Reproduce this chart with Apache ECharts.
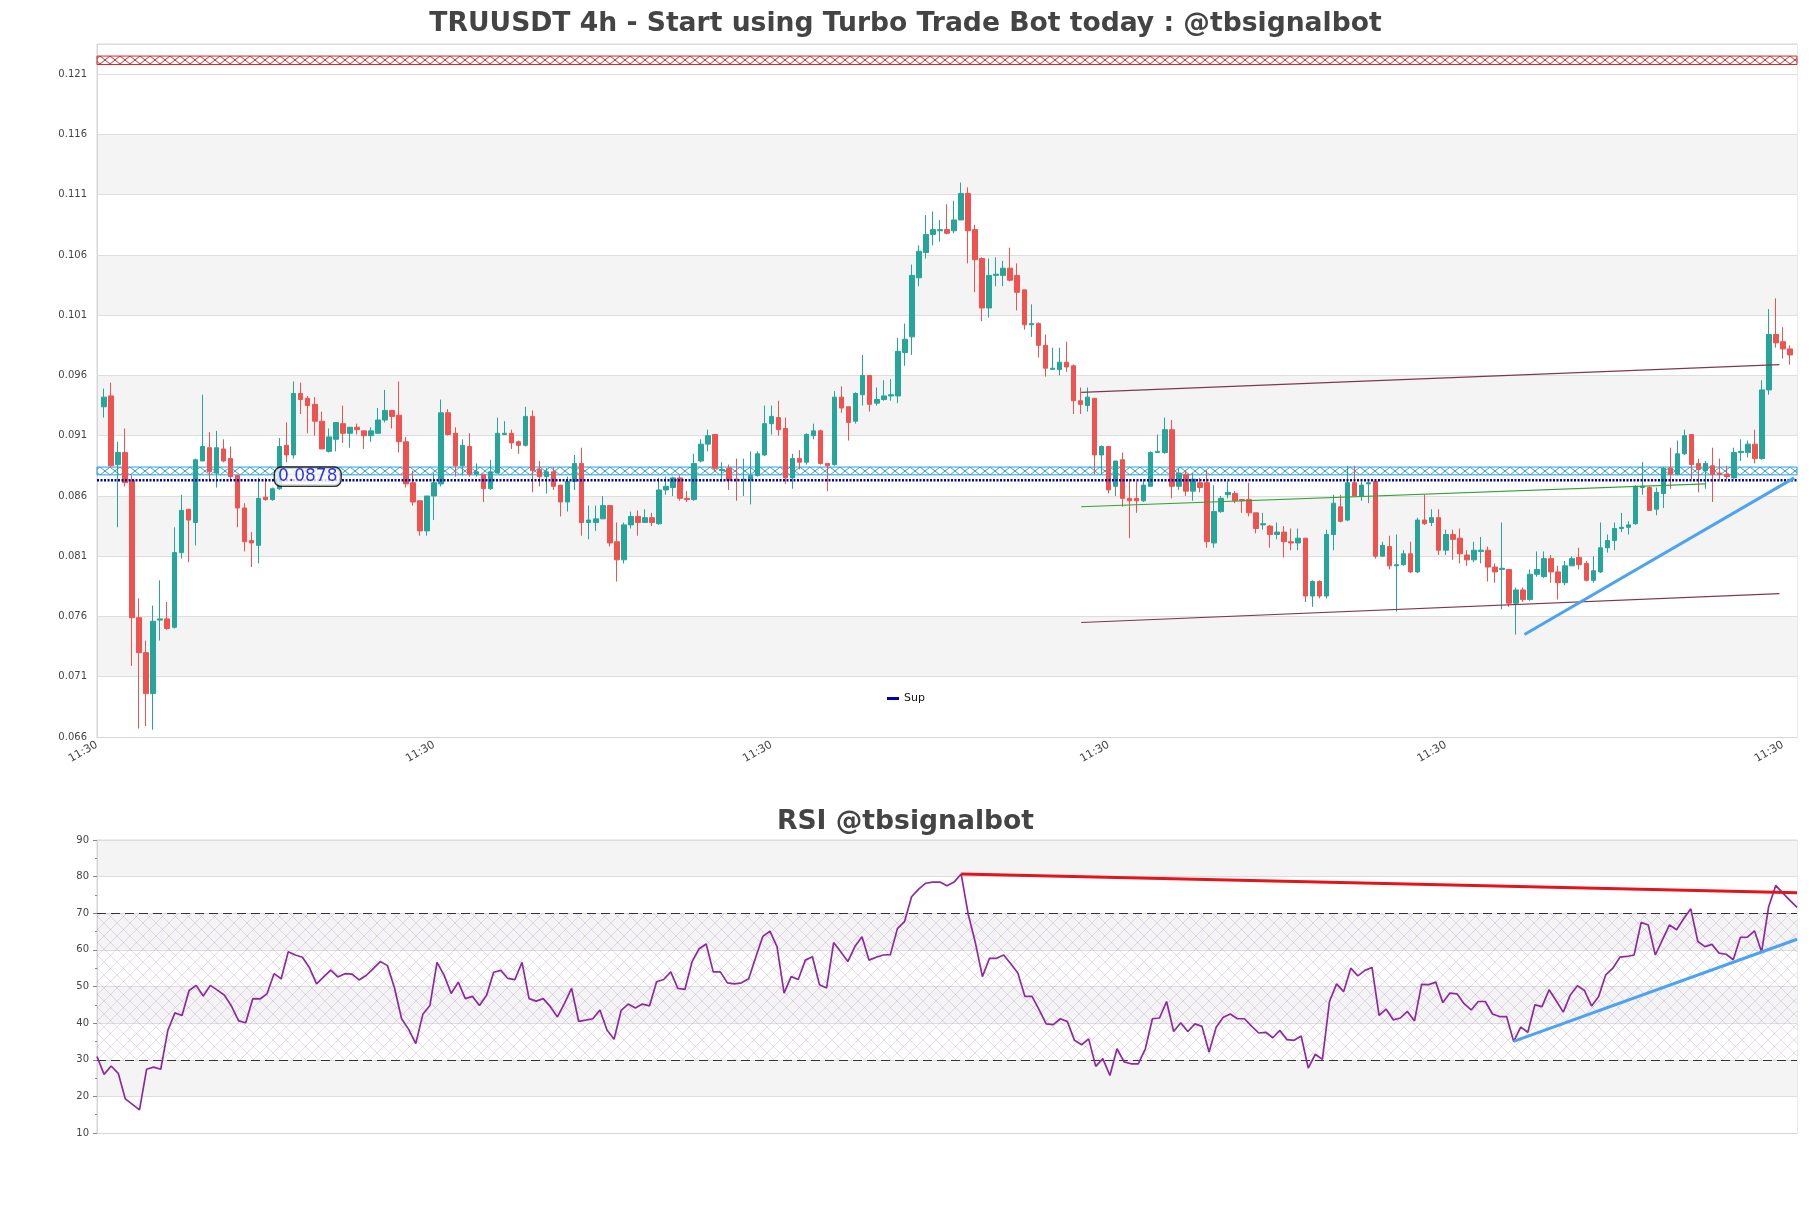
<!DOCTYPE html>
<html><head><meta charset="utf-8">
<script src="https://cdn.jsdelivr.net/npm/echarts@6/dist/echarts.min.js"></script>
<style>html,body{margin:0;padding:0;background:#fff;}#c{width:1811px;height:1208px;}</style>
</head><body><div id="c"></div>
<script>
// ---- data (candles 1..241) ----
const opens = [
.0934,.0943,.0886,.0896,.0873,.0759,.0730,.0696,.0757,.0758,
.0751,.0813,.0849,.0838,.0889,.0900,.0879,.0899,.0891,.0877,
.0850,.0823,.0819,.0859,.0857,.0866,.0902,.0894,.0945,.0941,
.0936,.0922,.0897,.0907,.0920,.0912,.0917,.0914,.0910,.0912,
.0923,.0931,.0927,.0905,.0871,.0856,.0831,.0860,.0870,.0929,
.0912,.0885,.0901,.0878,.0878,.0866,.0879,.0911,.0912,.0905,
.0902,.0926,.0882,.0876,.0880,.0869,.0855,.0872,.0887,.0838,
.0838,.0841,.0852,.0822,.0807,.0836,.0843,.0838,.0842,.0837,
.0865,.0867,.0875,.0858,.0857,.0889,.0903,.0911,.0881,.0883,
.0874,.0873,.0873,.0877,.0894,.0920,.0925,.0916,.0875,.0891,
.0888,.0910,.0914,.0887,.0886,.0942,.0934,.0922,.0944,.0960,
.0937,.0940,.0943,.0943,.0979,.0992,.1041,.1062,.1077,.1080,
.1081,.1080,.1089,.1111,.1081,.1057,.1016,.1043,.1043,.1049,
.1043,.1031,.1002,.1003,.0985,.0965,.0965,.0971,.0968,.0939,
.0935,.0941,.0894,.0901,.0868,.0890,.0858,.0858,.0856,.0868,
.0896,.0896,.0915,.0868,.0878,.0864,.0871,.0871,.0821,.0847,
.0861,.0862,.0857,.0857,.0846,.0836,.0835,.0828,.0830,.0822,
.0821,.0825,.0777,.0789,.0777,.0828,.0851,.0840,.0871,.0860,
.0870,.0872,.0810,.0818,.0802,.0803,.0812,.0797,.0840,.0838,
.0842,.0815,.0828,.0825,.0811,.0807,.0814,.0815,.0801,.0799,
.0799,.0771,.0782,.0774,.0795,.0793,.0808,.0797,.0788,.0802,
.0809,.0804,.0790,.0797,.0817,.0823,.0833,.0834,.0837,.0867,
.0867,.0849,.0862,.0883,.0878,.0895,.0911,.0887,.0881,.0885,
.0879,.0878,.0875,.0896,.0896,.0903,.0891,.0948,.0994,.0988,
.0982];
const closes = [
.0942,.0885,.0896,.0871,.0759,.0730,.0696,.0756,.0758,.0750,
.0813,.0848,.0840,.0890,.0901,.0880,.0900,.0889,.0876,.0850,
.0822,.0821,.0858,.0857,.0866,.0901,.0894,.0945,.0940,.0935,
.0922,.0899,.0909,.0921,.0912,.0917,.0915,.0910,.0914,.0923,
.0931,.0926,.0905,.0870,.0855,.0831,.0860,.0871,.0929,.0911,
.0885,.0902,.0878,.0880,.0866,.0880,.0912,.0912,.0904,.0902,
.0926,.0881,.0876,.0880,.0868,.0855,.0872,.0887,.0838,.0840,
.0841,.0852,.0821,.0807,.0836,.0843,.0838,.0842,.0838,.0865,
.0868,.0875,.0858,.0857,.0887,.0903,.0910,.0883,.0882,.0873,
.0873,.0874,.0877,.0895,.0920,.0926,.0915,.0875,.0891,.0888,
.0911,.0914,.0887,.0885,.0942,.0933,.0921,.0945,.0960,.0936,
.0940,.0943,.0944,.0980,.0990,.1043,.1063,.1077,.1081,.1081,
.1078,.1089,.1111,.1080,.1056,.1016,.1043,.1044,.1049,.1039,
.1029,.1002,.1003,.0985,.0966,.0966,.0971,.0967,.0939,.0936,
.0942,.0894,.0901,.0865,.0889,.0858,.0856,.0856,.0869,.0896,
.0897,.0915,.0868,.0879,.0864,.0874,.0867,.0822,.0847,.0858,
.0863,.0856,.0856,.0846,.0833,.0837,.0828,.0830,.0822,.0821,
.0825,.0777,.0789,.0777,.0828,.0854,.0839,.0871,.0860,.0869,
.0871,.0810,.0819,.0802,.0803,.0812,.0797,.0840,.0837,.0842,
.0815,.0828,.0824,.0812,.0807,.0815,.0815,.0801,.0797,.0800,
.0771,.0782,.0774,.0795,.0799,.0808,.0797,.0788,.0802,.0808,
.0803,.0790,.0798,.0817,.0823,.0833,.0834,.0836,.0868,.0868,
.0848,.0863,.0883,.0878,.0895,.0910,.0886,.0882,.0887,.0878,
.0878,.0876,.0896,.0897,.0903,.0891,.0948,.0994,.0987,.0982,
.0977];
const highs = [
.0949,.0954,.0905,.0916,.0877,.0775,.0740,.0769,.0790,.0772,
.0834,.0861,.0849,.0891,.0944,.0913,.0914,.0907,.0901,.0877,
.0854,.0830,.0875,.0875,.0867,.0908,.0921,.0955,.0954,.0943,
.0942,.0930,.0916,.0921,.0935,.0917,.0920,.0914,.0917,.0933,
.0948,.0931,.0955,.0909,.0881,.0856,.0860,.0879,.0940,.0932,
.0917,.0907,.0912,.0887,.0878,.0890,.0925,.0922,.0915,.0906,
.0934,.0931,.0889,.0883,.0884,.0869,.0876,.0894,.0900,.0852,
.0852,.0860,.0852,.0838,.0838,.0847,.0848,.0849,.0846,.0875,
.0876,.0876,.0877,.0864,.0895,.0907,.0915,.0911,.0888,.0886,
.0891,.0891,.0897,.0897,.0935,.0935,.0939,.0925,.0895,.0898,
.0912,.0920,.0915,.0887,.0947,.0951,.0934,.0946,.0977,.0960,
.0950,.0956,.0957,.0991,.1003,.1052,.1068,.1093,.1096,.1089,
.1102,.1105,.1120,.1116,.1085,.1058,.1057,.1058,.1055,.1066,
.1053,.1031,.1019,.1004,.0994,.0983,.0983,.0988,.0969,.0950,
.0950,.0941,.0902,.0901,.0889,.0896,.0874,.0872,.0874,.0897,
.0911,.0925,.0923,.0883,.0881,.0879,.0875,.0881,.0869,.0860,
.0872,.0864,.0857,.0871,.0846,.0846,.0836,.0838,.0835,.0833,
.0833,.0825,.0790,.0790,.0832,.0861,.0861,.0885,.0885,.0872,
.0872,.0872,.0822,.0827,.0828,.0815,.0822,.0842,.0861,.0849,
.0849,.0832,.0832,.0833,.0815,.0822,.0826,.0818,.0804,.0838,
.0799,.0784,.0784,.0799,.0814,.0814,.0811,.0802,.0806,.0810,
.0817,.0806,.0810,.0838,.0828,.0838,.0846,.0839,.0869,.0888,
.0868,.0867,.0884,.0900,.0906,.0915,.0911,.0891,.0889,.0900,
.0891,.0885,.0900,.0907,.0906,.0915,.0956,.1015,.1024,.1000,
.0985];
const lows = [
.0925,.0884,.0834,.0868,.0719,.0667,.0669,.0666,.0740,.0749,
.0750,.0808,.0805,.0819,.0889,.0872,.0867,.0888,.0874,.0834,
.0814,.0801,.0804,.0856,.0856,.0865,.0888,.0891,.0928,.0912,
.0910,.0899,.0896,.0897,.0904,.0900,.0911,.0899,.0905,.0912,
.0921,.0916,.0896,.0867,.0852,.0827,.0827,.0840,.0868,.0910,
.0876,.0877,.0876,.0876,.0855,.0865,.0879,.0911,.0899,.0895,
.0901,.0863,.0868,.0862,.0865,.0843,.0847,.0865,.0827,.0824,
.0831,.0841,.0818,.0789,.0804,.0833,.0827,.0838,.0835,.0836,
.0861,.0860,.0856,.0855,.0856,.0888,.0897,.0880,.0872,.0865,
.0856,.0860,.0853,.0876,.0893,.0911,.0910,.0870,.0866,.0882,
.0886,.0907,.0886,.0864,.0885,.0929,.0906,.0920,.0935,.0930,
.0935,.0939,.0939,.0937,.0968,.0977,.1034,.1057,.1068,.1071,
.1077,.1078,.1089,.1053,.1029,.1005,.1008,.1034,.1034,.1038,
.1014,.0998,.0992,.0975,.0959,.0965,.0960,.0963,.0928,.0928,
.0930,.0878,.0878,.0862,.0860,.0851,.0825,.0846,.0855,.0868,
.0896,.0895,.0858,.0865,.0860,.0856,.0863,.0817,.0817,.0846,
.0858,.0854,.0846,.0843,.0829,.0832,.0817,.0824,.0809,.0815,
.0815,.0772,.0768,.0775,.0775,.0815,.0838,.0839,.0860,.0856,
.0854,.0808,.0810,.0799,.0764,.0802,.0796,.0796,.0836,.0835,
.0811,.0811,.0807,.0804,.0802,.0805,.0804,.0789,.0788,.0766,
.0768,.0745,.0772,.0773,.0793,.0792,.0788,.0774,.0786,.0802,
.0799,.0789,.0788,.0796,.0813,.0815,.0830,.0828,.0836,.0861,
.0848,.0844,.0850,.0866,.0877,.0894,.0874,.0863,.0866,.0855,
.0874,.0874,.0874,.0889,.0892,.0887,.0890,.0944,.0983,.0974,
.0969];
const rsi = [
30.9,26.0,28.3,26.3,19.3,17.8,16.3,27.4,28.0,27.4,
38.0,42.8,42.1,48.9,50.3,47.4,50.3,49.0,47.6,44.6,
40.6,40.1,46.7,46.6,48.0,53.5,52.1,59.5,58.6,58.0,
55.1,50.7,52.6,54.5,52.6,53.5,53.4,51.8,53.0,54.9,
56.8,55.7,49.6,41.2,38.3,34.4,42.4,44.8,56.6,53.1,
48.1,51.2,46.7,47.3,44.8,47.6,53.9,54.4,52.2,51.9,
56.6,46.7,46.0,46.7,44.5,41.7,45.4,49.5,40.5,40.8,
41.2,43.6,38.1,35.6,43.5,45.2,44.1,45.2,44.7,51.3,
51.9,54.0,49.5,49.2,56.7,60.3,61.6,54.0,54.0,51.0,
50.7,51.0,52.1,58.0,63.7,65.1,60.9,48.2,52.7,51.9,
57.2,58.1,50.5,49.6,62.0,59.5,56.8,60.9,63.6,57.2,
58.0,58.6,58.7,65.8,67.7,74.5,76.6,78.2,78.5,78.5,
77.5,78.5,80.7,69.7,62.0,52.7,57.7,57.7,58.6,56.2,
53.7,47.3,47.3,43.7,39.8,39.6,41.2,40.4,35.3,34.1,
35.7,28.2,30.3,25.7,33.0,29.4,28.9,28.9,33.0,41.2,
41.4,45.9,37.7,40.1,37.7,39.8,39.1,32.1,38.9,41.6,
42.5,41.2,41.2,39.2,37.3,37.5,36.0,38.0,35.5,35.3,
36.5,27.7,31.5,30.1,45.9,50.7,48.6,55.0,52.9,54.4,
55.2,42.1,43.8,40.9,41.4,43.2,40.6,50.6,50.5,51.2,
45.6,48.2,48.0,45.3,43.6,45.9,45.9,42.5,41.8,41.8,
35.0,38.9,37.5,45.0,44.5,49.1,46.1,43.0,47.7,50.2,
48.9,44.7,47.3,53.2,55.0,58.0,58.2,58.6,67.5,66.8,
58.6,62.7,66.8,65.5,68.5,71.2,62.3,60.9,61.5,59.1,
58.8,57.3,63.4,63.5,65.2,59.4,71.8,77.6,75.5,73.5,
71.6];
// tick labels
const xTickSlots = [0, 48, 96, 144, 192, 240];
const xTickLabels = ['11:30','11:30','11:30','11:30','11:30','11:30'];
const priceMin = 0.066, priceMax = 0.1235, priceStep = 0.005;
const rsiMin = 10, rsiMax = 90, rsiStep = 10;
// levels / drawn lines: [slot, value]
const supLevel = 0.0873;
const supLabelText = '0.0878';
const supLabelAt = [30, 0.0876];
const resBand = [0.1218, 0.1225];
const supBand = [0.08775, 0.0884];
const chanUpper = [[140.1, 0.0946], [239.5, 0.0969]];
const chanLower = [[140.1, 0.0755], [239.5, 0.0779]];
const midLine = [[140.1, 0.0851], [229, 0.0870]];
const riseLine = [[203.2, 0.0745], [241.6, 0.0875]];
const rsiDownLine = [[123, 80.7], [241, 75.6]];
const rsiUpLine = [[201, 35.0], [241, 62.9]];
const rsiLevels = [30, 70];

// ---- build ----
const BASE = priceMin;
const nSlots = opens.length + 2;
const slots = Array.from({length: nSlots}, (_, k) => String(k));
const candleData = slots.map((_, k) => {
  const i = k - 1;
  if (i < 0 || i >= opens.length) return '-';
  return [opens[i] - BASE, closes[i] - BASE, lows[i] - BASE, highs[i] - BASE];
});
const shift = pts => pts.map(p => [p[0], p[1] - BASE]);
const rsiData = rsi.map((v, j) => [j + 1, v]);

function hatch(color, w, h, lw, bg) {
  const c = document.createElement('canvas');
  c.width = w; c.height = h;
  const g = c.getContext('2d');
  if (bg) { g.fillStyle = bg; g.fillRect(0, 0, w, h); }
  g.strokeStyle = color; g.lineWidth = lw;
  g.beginPath();
  g.moveTo(0, 0); g.lineTo(w, h);
  g.moveTo(w, 0); g.lineTo(0, h);
  g.stroke();
  return c;
}
const FONT = 'DejaVu Sans';
const mainAreaColors = ['#ffffff','#f4f4f4','#ffffff','#f4f4f4','#ffffff','#f4f4f4','#ffffff','#f4f4f4','#ffffff','#f4f4f4','#ffffff','#ffffff'];

const chart = echarts.init(document.getElementById('c'), null, {renderer: 'canvas'});
const option = {
  animation: false,
  backgroundColor: '#ffffff',
  textStyle: {fontFamily: FONT},
  title: [
    {text: 'TRUUSDT 4h - Start using Turbo Trade Bot today : @tbsignalbot', left: 'center', top: 6,
     textStyle: {fontFamily: FONT, fontWeight: 'bold', fontSize: 26.6, color: '#444444'}},
    {text: 'RSI @tbsignalbot', left: 'center', top: 804,
     textStyle: {fontFamily: FONT, fontWeight: 'bold', fontSize: 26.6, color: '#444444'}}
  ],
  legend: {data: ['Sup'], left: 882, top: 688, icon: 'rect', itemWidth: 12, itemHeight: 3,
    textStyle: {fontFamily: FONT, fontSize: 11, color: '#111'}},
  grid: [
    {left: 97, right: 14, top: 44, height: 693, show: true, borderColor: '#d6d6d6', borderWidth: 1, backgroundColor: 'transparent'},
    {left: 97, right: 14, top: 840, height: 293, show: true, borderColor: '#d6d6d6', borderWidth: 1, backgroundColor: 'transparent'}
  ],
  xAxis: [
    {type: 'category', gridIndex: 0, data: slots, boundaryGap: false,
     axisLine: {lineStyle: {color: '#d6d6d6'}}, axisTick: {show: false}, splitLine: {show: false},
     axisLabel: {interval: (idx) => xTickSlots.indexOf(idx) >= 0,
       formatter: (val) => { const k = xTickSlots.indexOf(+val); return k >= 0 ? xTickLabels[k] : ''; },
       rotate: 30, fontSize: 11, color: '#444', margin: 7, fontFamily: FONT}},
    {type: 'value', gridIndex: 0, min: 0, max: nSlots - 1, show: false},
    {type: 'value', gridIndex: 1, min: 1, max: rsi.length,
     axisLine: {lineStyle: {color: '#d6d6d6'}}, axisTick: {show: false}, axisLabel: {show: false}, splitLine: {show: false}}
  ],
  yAxis: [
    {type: 'value', gridIndex: 0, min: 0, max: priceMax - BASE, interval: priceStep,
     axisLine: {show: true, lineStyle: {color: '#d6d6d6'}}, axisTick: {show: false},
     axisLabel: {formatter: v => (v + BASE).toFixed(3), showMaxLabel: false, fontSize: 10, color: '#444', margin: 10, fontFamily: FONT},
     splitLine: {show: true, lineStyle: {color: '#dedede', width: 1}},
     splitArea: {show: true, areaStyle: {color: mainAreaColors}}},
    {type: 'value', gridIndex: 1, min: rsiMin, max: rsiMax, interval: rsiStep,
     axisLine: {show: true, lineStyle: {color: '#d6d6d6'}},
     axisTick: {show: true, length: 4, lineStyle: {color: '#888'}},
     minorTick: {show: true, splitNumber: 2, length: 2, lineStyle: {color: '#888'}},
     axisLabel: {fontSize: 10, color: '#444', margin: 8, fontFamily: FONT},
     splitLine: {show: true, lineStyle: {color: '#dedede', width: 1}},
     splitArea: {show: true, areaStyle: {color: ['#ffffff', '#f4f4f4']}}}
  ],
  series: [
    {name: 'price', type: 'candlestick', xAxisIndex: 0, yAxisIndex: 0, data: candleData, barWidth: 5, z: 3,
     itemStyle: {color: '#26a69a', color0: '#ef5350', borderColor: '#26a69a', borderColor0: '#ef5350', borderWidth: 1}},
    {name: 'Sup', type: 'line', xAxisIndex: 1, yAxisIndex: 0, symbol: 'none', z: 4,
     data: [[0, supLevel - BASE], [nSlots - 1, supLevel - BASE]],
     lineStyle: {color: '#0000b0', width: 2.5, type: [2, 1.5]}, itemStyle: {color: '#0000b0'},
     markArea: {silent: true, data: [
       [{yAxis: resBand[0] - BASE, itemStyle: {color: {image: hatch('#d62728', 10, 8, 1), repeat: 'repeat', y: 0}, borderColor: '#d62728', borderWidth: 1}}, {yAxis: resBand[1] - BASE}],
       [{yAxis: supBand[0] - BASE, itemStyle: {color: {image: hatch('#2a9fd8', 10, 8, 1), repeat: 'repeat', y: 3}, borderColor: '#2a9fd8', borderWidth: 1}}, {yAxis: supBand[1] - BASE}]
     ]}},
    {name: 'chanU', type: 'line', xAxisIndex: 1, yAxisIndex: 0, symbol: 'none', z: 5, data: shift(chanUpper),
     lineStyle: {color: '#7a3b4e', width: 1.2}},
    {name: 'chanL', type: 'line', xAxisIndex: 1, yAxisIndex: 0, symbol: 'none', z: 5, data: shift(chanLower),
     lineStyle: {color: '#7a3b4e', width: 1.2}},
    {name: 'mid', type: 'line', xAxisIndex: 1, yAxisIndex: 0, symbol: 'none', z: 5, data: shift(midLine),
     lineStyle: {color: '#3aa03a', width: 1.1}},
    {name: 'rise', type: 'line', xAxisIndex: 1, yAxisIndex: 0, symbol: 'none', z: 6, data: shift(riseLine),
     lineStyle: {color: '#4da3f0', width: 3}},
    {name: 'supLabel', type: 'scatter', xAxisIndex: 1, yAxisIndex: 0, z: 8, symbolSize: 1,
     itemStyle: {color: 'rgba(0,0,0,0)'}, data: [[supLabelAt[0], supLabelAt[1] - BASE]],
     label: {show: true, position: 'inside', formatter: supLabelText, fontFamily: FONT, fontSize: 17, color: '#0000ee',
       backgroundColor: '#ffffff', borderColor: '#000000', borderWidth: 1.4, borderRadius: 6, padding: [1, 3, 0, 3]}},
    {name: 'RSI', type: 'line', xAxisIndex: 2, yAxisIndex: 1, symbol: 'none', z: 5, data: rsiData,
     lineStyle: {color: '#8e2a9e', width: 1.7},
     markArea: {silent: true, data: [[{yAxis: rsiLevels[0], itemStyle: {color: {image: hatch('rgba(160,110,190,0.30)', 13, 13, 0.8), repeat: 'repeat'}}}, {yAxis: rsiLevels[1]}]]},
     markLine: {silent: true, symbol: 'none', label: {show: false},
       lineStyle: {color: '#333', type: [9, 5], width: 1.2},
       data: rsiLevels.map(v => ({yAxis: v}))}},
    {name: 'rsiDown', type: 'line', xAxisIndex: 2, yAxisIndex: 1, symbol: 'none', z: 6, data: rsiDownLine,
     lineStyle: {color: '#e3141c', width: 3}},
    {name: 'rsiUp', type: 'line', xAxisIndex: 2, yAxisIndex: 1, symbol: 'none', z: 6, data: rsiUpLine,
     lineStyle: {color: '#4da3f0', width: 3}}
  ]
};
chart.setOption(option);
</script>
</body></html>
